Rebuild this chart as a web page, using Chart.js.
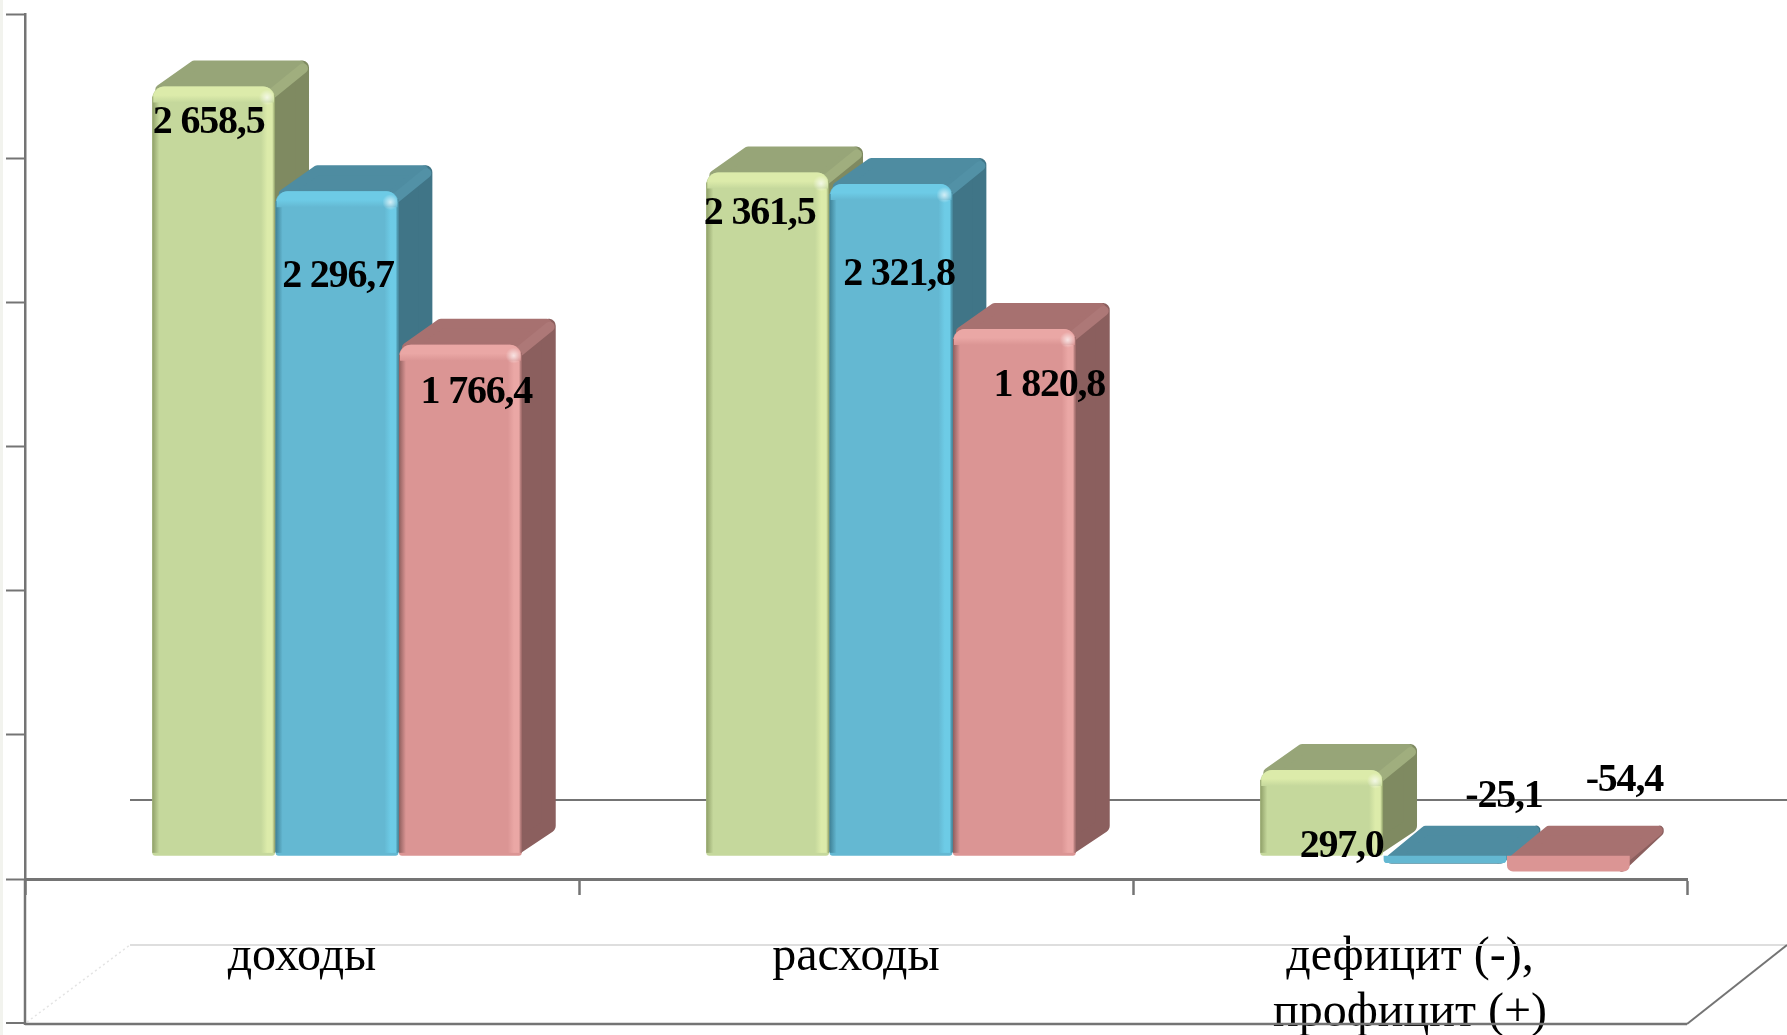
<!DOCTYPE html>
<html>
<head>
<meta charset="utf-8">
<title>Доходы и расходы</title>
<script src="https://cdn.jsdelivr.net/npm/chart.js@4"></script>
<style>
  html, body { margin: 0; padding: 0; height: 100%; overflow: hidden; }
  body { background: linear-gradient(to right, #f2f3ee 3px, #fff 3px); }
  #wrap { position: absolute; left: 0; top: 0; width: 1787px; height: 1035px; }
</style>
</head>
<body>
<div id="wrap"><canvas id="chart"></canvas></div>
<script>
// ---- DATA ----
const categories = ["доходы", "расходы", ["дефицит (-),", "профицит (+)"]];
const seriesA = [2658.5, 2361.5, 297.0];
const seriesB = [2296.7, 2321.8, -25.1];
const seriesC = [1766.4, 1820.8, -54.4];

// ---- STYLES ----
const LINE = "#747474";
const SERIF = '"Liberation Serif", "Times New Roman", serif';
const DEPTH_X = 34, DEPTH_Y = 26, SHIFT_X = 35;
const looks = [
  { front: "#c5d89c", top: "#97a578", side: "#7f8a61", bevel: "#a0ae7e", light: "#dcebaa", dark: "#8f9f68" },
  { front: "#64b8d2", top: "#4e8ca1", side: "#407587", bevel: "#5291a6", light: "#6dcbe6", dark: "#3f8196" },
  { front: "#db9594", top: "#a77170", side: "#8b5f5e", bevel: "#ad7877", light: "#eaa7a5", dark: "#8f5f5e" }
];
// where each value label sits, from the bar's top centre: [series][category] = [dx, dy]
const labelShift = [
  [[-5, 36], [-8, 41], [20, 77]],
  [[1, 85], [8, 91], [59, -66]],
  [[16, 48], [35, 57], [56, -91]]
];

function fmt(v) {
  const s = Math.abs(v).toFixed(1).split(".");
  const whole = s[0].replace(/\B(?=(\d{3})+$)/g, " ");
  return (v < 0 ? "-" : "") + whole + "," + s[1];
}

function roundedPoly(ctx, pts, r, color) {
  ctx.beginPath();
  pts.forEach((p, i) => i ? ctx.lineTo(p[0], p[1]) : ctx.moveTo(p[0], p[1]));
  ctx.closePath();
  ctx.fillStyle = color;
  ctx.strokeStyle = color;
  ctx.lineWidth = r * 2;
  ctx.lineJoin = "round";
  ctx.fill();
  ctx.stroke();
}

// ---- PLUGIN: back wall and floor lines ----
const roomPlugin = {
  id: "room",
  beforeDatasetsDraw(chart) {
    const { ctx } = chart;
    const line = (x1, y1, x2, y2, color, w, dash) => {
      ctx.save();
      ctx.beginPath();
      ctx.moveTo(x1, y1);
      ctx.lineTo(x2, y2);
      ctx.strokeStyle = color;
      ctx.lineWidth = w;
      if (dash) ctx.setLineDash(dash);
      ctx.stroke();
      ctx.restore();
    };
    line(130, 800, 1787, 800, LINE, 2);
    line(130, 945, 1787, 945, "#dedede", 2);
    line(27, 1022, 130, 945, "#e4e4e4", 1.5, [2, 3]);
    line(25, 879, 25, 1025, LINE, 2.5);
    line(25, 1024, 1687, 1024, LINE, 2.5);
    line(1687, 1024, 1787, 945, LINE, 2);
    line(6, 1023, 25, 1023, LINE, 2);
  }
};

// ---- PLUGIN: 3D look of the bars ----
function drawFaces(ctx, meta, look) {
  meta.data.forEach(bar => {
    const xl = bar.x - bar.width / 2, xr = bar.x + bar.width / 2;
    const top = Math.min(bar.y, bar.base), bottom = Math.max(bar.y, bar.base);
    const tall = bottom - top > 20;
    const r = tall ? 7 : 4;
    const rise = tall ? DEPTH_Y : DEPTH_Y + 4;
    if (tall) {
      roundedPoly(ctx, [
        [xr - 6, top + 8], [xr + DEPTH_X - r, top - rise + r],
        [xr + DEPTH_X - r, bottom - rise - 4], [xr - 6, bottom - 8]
      ], r, look.side);
    } else {
      // flat bar: the side is just a sliver running up from the front corner
      roundedPoly(ctx, [
        [xr - 8, top + 2], [xr + DEPTH_X - r, top - rise + r],
        [xr + DEPTH_X - r, top - rise + r + 2], [xr - 8, bottom - 4]
      ], r, look.side);
    }
    roundedPoly(ctx, [
      [xl + 8, top + 3], [xl + DEPTH_X + 8, top - rise + 5],
      [xr + DEPTH_X - r - 2, top - rise + 5], [xr - 6, top + 3]
    ], 5, look.top);
    if (tall) {
      // lighter bevel between the top and the side face
      ctx.beginPath();
      ctx.moveTo(xr - 4, top + 8);
      ctx.lineTo(xr + DEPTH_X - 6, top - DEPTH_Y + 8);
      ctx.strokeStyle = look.bevel;
      ctx.lineWidth = 10;
      ctx.lineCap = "round";
      ctx.stroke();
    }
  });
}

function drawShading(ctx, meta, look) {
  meta.data.forEach(bar => {
    const xl = bar.x - bar.width / 2, xr = bar.x + bar.width / 2;
    const top = Math.min(bar.y, bar.base), bottom = Math.max(bar.y, bar.base);
    const h = bottom - top;
    if (h < 20) return;
    // right edge: bright strip fading into a dark rim
    let g = ctx.createLinearGradient(xr - 14, 0, xr, 0);
    g.addColorStop(0, look.front);
    g.addColorStop(0.45, look.light);
    g.addColorStop(0.8, look.light);
    g.addColorStop(1, look.dark);
    ctx.fillStyle = g;
    ctx.fillRect(xr - 14, top + 8, 14, h - 11);
    // left edge shadow
    g = ctx.createLinearGradient(xl, 0, xl + 7, 0);
    g.addColorStop(0, look.dark);
    g.addColorStop(1, look.front);
    ctx.fillStyle = g;
    ctx.fillRect(xl, top + 10, 7, h - 13);
    // top bevel
    g = ctx.createLinearGradient(0, top, 0, top + 16);
    g.addColorStop(0, look.light);
    g.addColorStop(0.55, look.light);
    g.addColorStop(1, look.front);
    ctx.fillStyle = g;
    ctx.beginPath();
    ctx.roundRect(xl + 1, top, bar.width - 2, 16, [11, 11, 0, 0]);
    ctx.fill();
    // glint in the corner
    g = ctx.createRadialGradient(xr - 8, top + 11, 0, xr - 8, top + 11, 8);
    g.addColorStop(0, "rgba(255,255,255,0.7)");
    g.addColorStop(1, "rgba(255,255,255,0)");
    ctx.fillStyle = g;
    ctx.fillRect(xr - 16, top + 3, 16, 16);
  });
}

const depthPlugin = {
  id: "depth",
  // bars have to go left to right so each front covers its left neighbour's side;
  // the default loop goes the other way, so it is skipped and redone below
  beforeDatasetDraw() { return false; },
  afterDatasetsDraw(chart) {
    const { ctx } = chart;
    chart.data.datasets.forEach((ds, i) => {
      const meta = chart.getDatasetMeta(i);
      ctx.save();
      ctx.translate(SHIFT_X, 0);
      drawFaces(ctx, meta, looks[i]);
      meta.controller.draw();
      drawShading(ctx, meta, looks[i]);
      ctx.restore();
    });

    ctx.save();
    ctx.font = "bold 40px " + SERIF;
    ctx.letterSpacing = "-1.2px";
    ctx.fillStyle = "#000";
    ctx.textAlign = "center";
    ctx.textBaseline = "middle";
    chart.data.datasets.forEach((ds, i) => {
      chart.getDatasetMeta(i).data.forEach((bar, j) => {
        const s = labelShift[i][j];
        ctx.fillText(fmt(ds.data[j]), bar.x + SHIFT_X + s[0], bar.y + s[1]);
      });
    });
    ctx.restore();
  }
};

// ---- CHART ----
const tallRadius = { topLeft: 12, topRight: 12, bottomLeft: 3, bottomRight: 3 };
const makeSeries = (name, data, look) => ({
  label: name,
  data,
  clip: false,
  yAxisID: "y",
  xAxisID: "x",
  backgroundColor: look.front,
  borderRadius: c => (c.raw < 0 ? { topLeft: 0, topRight: 0, bottomLeft: 6, bottomRight: 6 } : tallRadius),
  borderSkipped: false,
  barPercentage: 0.995,
  categoryPercentage: 0.668
});

new Chart(document.getElementById("chart"), {
  type: "bar",
  data: {
    labels: categories,
    datasets: [
      makeSeries("A", seriesA, looks[0]),
      makeSeries("B", seriesB, looks[1]),
      makeSeries("C", seriesC, looks[2])
    ]
  },
  plugins: [roomPlugin, depthPlugin],
  options: {
    responsive: true,
    maintainAspectRatio: false,
    animation: false,
    layout: { padding: { left: 6, top: 14, right: 100, bottom: 0 } },
    plugins: { legend: { display: false }, tooltip: { enabled: false }, title: { display: false } },
    scales: {
      x: {
        type: "category",
        position: "bottom",
        offset: true,
        afterFit(scale) { scale.height = 156; },
        border: { color: LINE, width: 3 },
        grid: { offset: true, drawOnChartArea: false, drawTicks: true, tickLength: 16, tickColor: LINE, tickWidth: 2.5 },
        ticks: {
          color: "#000",
          padding: 34,
          maxRotation: 0,
          autoSkip: false,
          font: { family: SERIF, size: 48, lineHeight: 1.167 }
        }
      },
      y: { display: false, min: -80, max: 2909 },
      yTicks: {
        type: "linear",
        position: "left",
        min: -500,
        max: 2500,
        afterFit(scale) { scale.width = 19; },
        border: { color: LINE, width: 2.5 },
        grid: { drawOnChartArea: false, drawTicks: true, tickLength: 19, tickColor: LINE, tickWidth: 2 },
        ticks: { stepSize: 500, display: false }
      }
    }
  }
});
</script>
</body>
</html>
